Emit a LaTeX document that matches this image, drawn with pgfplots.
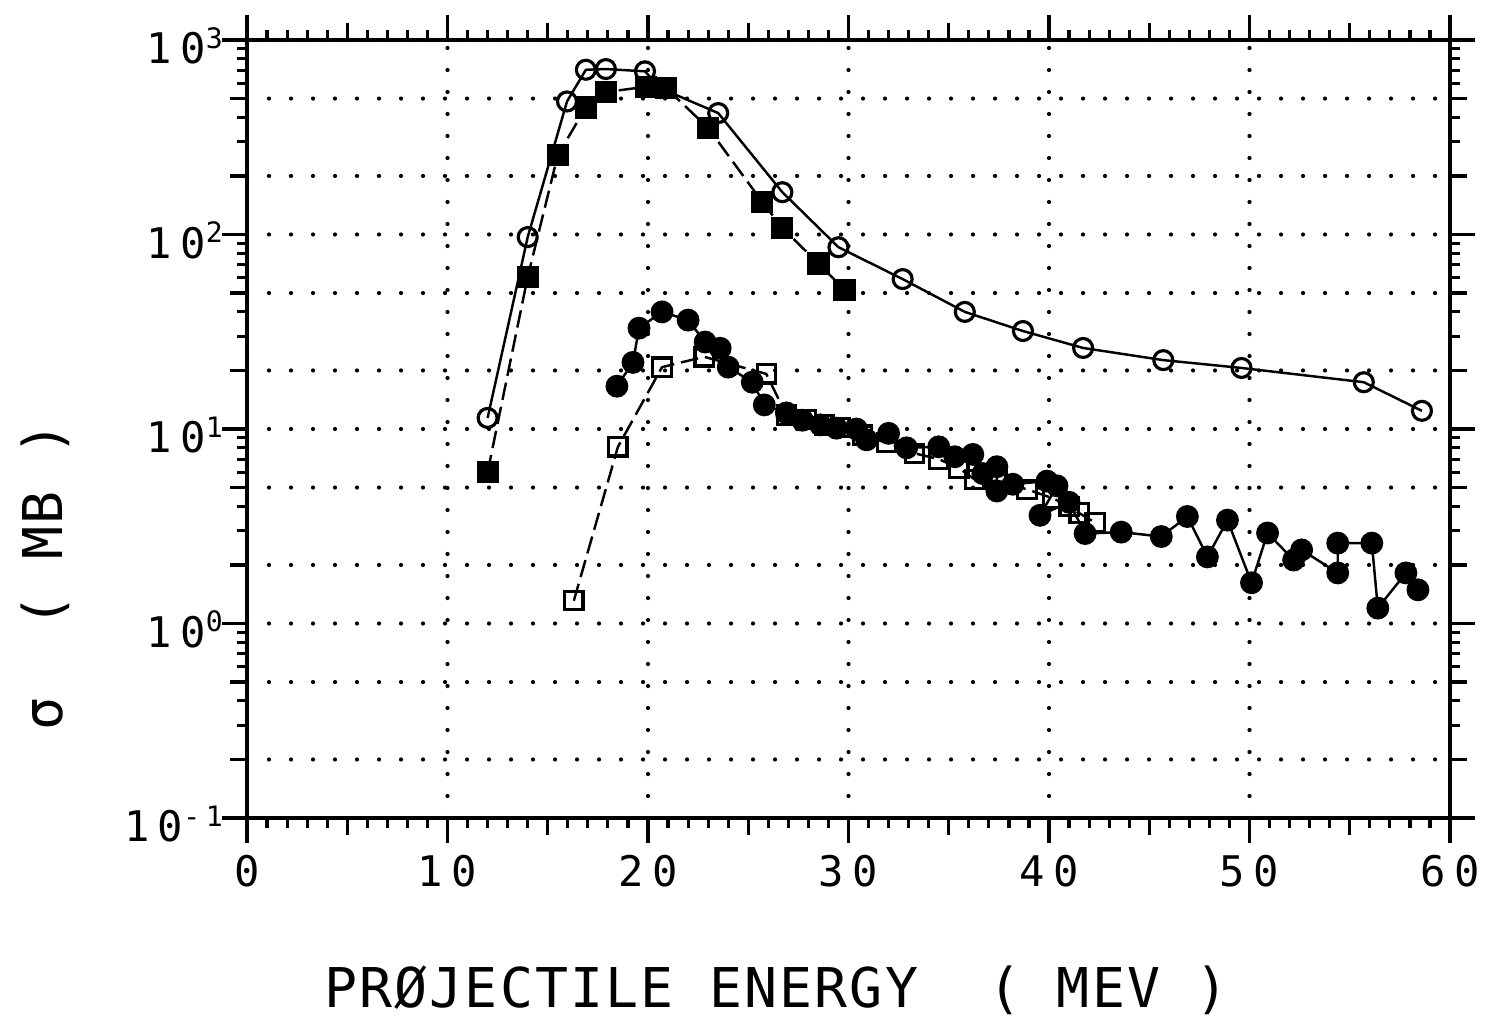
\documentclass[border=0pt]{standalone}
\usepackage{fontspec}
\setmainfont{DejaVu Sans Mono}
\newfontfamily\tickfont{DejaVu Sans Mono}[LetterSpace=20]
\newfontfamily\labfont{DejaVu Sans Mono}[LetterSpace=4]
\usepackage{pgfplots}
\pgfplotsset{compat=1.18}
\begin{document}
\begin{tikzpicture}
\begin{axis}[
  scale only axis, width=12.03cm, height=7.78cm,
  xmin=0, xmax=60, ymode=log, ymin=0.1, ymax=1000,
  axis line style={line width=1.3pt},
  tick align=outside,
  xtick={0,10,...,60}, xticklabels={0,10,20,30,40,50,60},
  minor x tick num=9,
  extra x ticks={5,15,...,55}, extra x tick labels={},
  extra x tick style={grid=none, major tick length=1.7mm},
  ytick={0.1,1,10,100,1000},
  yticklabels={10\textsuperscript{-1},10\textsuperscript{0},10\textsuperscript{1},10\textsuperscript{2},10\textsuperscript{3}},
  extra y ticks={0.2,0.5,2,5,20,50,200,500}, extra y tick labels={},
  extra y tick style={grid=major, major tick length=1.7mm},
  grid=major,
  major grid style={black, line width=0.42mm, dash pattern=on 0pt off 2.2mm, line cap=round},
  major tick length=2.5mm, minor tick length=1mm,
  every tick/.style={black, line width=0.9pt},
  tick label style={font=\tickfont\fontsize{12}{14}\selectfont},
  yticklabel style={xshift=1.5mm, yshift=-0.6mm},
  xlabel={PRØJECTILE ENERGY~~(~MEV~)},
  ylabel={σ~~(~MB~)},
  label style={font=\labfont\fontsize{15.6}{18}\selectfont},
  xlabel style={at={(axis description cs:0.44,-0.221)}, anchor=center},
  ylabel style={at={(axis description cs:-0.168,0.31)}, anchor=center},
]
% lower open squares, dashed
\addplot[black, line width=0.7pt, dash pattern=on 5pt off 2pt, mark=square, mark size=2.6pt,
  mark options={solid, fill=white, line width=0.9pt}] coordinates {
(16.3,1.31) (18.5,8.1) (20.7,20.8) (22.8,23.5) (25.9,19.2) (26.9,11.8) (27.9,11.2)
(28.8,10.5) (29.6,10.2) (30.7,9.3) (31.9,8.5) (33.3,7.5) (34.5,7.0) (35.5,6.3)
(36.3,5.5) (37.4,5.4) (38.9,4.9) (40.2,4.4) (41.0,4.0) (41.5,3.7) (42.3,3.3)
};
% lower filled circles, solid
\addplot[black, line width=0.7pt, mark=*, mark size=2.9pt] coordinates {
(18.45,16.6) (19.25,22) (19.55,33) (20.7,40) (22.0,36.3) (22.85,28) (23.6,26)
(24.0,20.8) (25.2,17.4) (25.8,13.3) (26.9,12.1) (27.7,11.1) (28.6,10.5) (29.4,10.1)
(30.4,10.0) (30.9,8.8) (32.0,9.5) (32.9,8.0) (34.5,8.1) (35.3,7.2) (36.2,7.4)
(36.7,5.9) (37.4,6.4) (37.4,4.8) (38.2,5.2) (39.9,5.4) (40.4,5.1) (39.55,3.6)
(41.0,4.2) (41.8,2.9) (43.6,2.95) (45.6,2.8) (46.9,3.55) (47.9,2.2) (48.9,3.4)
(50.1,1.62) (50.9,2.92) (52.2,2.12) (52.6,2.39) (54.4,1.82) (54.4,2.59) (56.1,2.59)
(56.4,1.2) (57.8,1.82) (58.4,1.49)
};
% upper filled squares, dashed
\addplot[black, line width=0.7pt, dash pattern=on 5pt off 2pt, mark=square*, mark size=2.8pt,
  mark options={solid}] coordinates {
(12.0,6.0) (14.0,60.5) (15.5,256) (16.9,450) (17.9,540) (19.9,575) (20.9,566)
(23.0,353) (25.7,147) (26.7,108) (28.5,71) (29.8,52)
};
% upper open circles, solid
\addplot[black, line width=0.7pt, mark=o, mark size=2.7pt,
  mark options={solid, fill=white, line width=0.9pt}] coordinates {
(12.0,11.4) (14.0,97) (15.96,483) (16.9,703) (17.9,709) (19.85,690) (20.6,566)
(23.5,421) (26.7,165) (29.5,86) (32.7,59) (35.8,40) (38.7,31.9) (41.7,26.1)
(45.7,22.6) (49.6,20.6) (55.7,17.4) (58.6,12.4)
};
\end{axis}
\pgfresetboundingbox
\path[use as bounding box] ([xshift=-2.47cm,yshift=-2.02cm]current axis.south west)
  rectangle ([xshift=0.37cm,yshift=0.40cm]current axis.north east);
\end{tikzpicture}
\end{document}
